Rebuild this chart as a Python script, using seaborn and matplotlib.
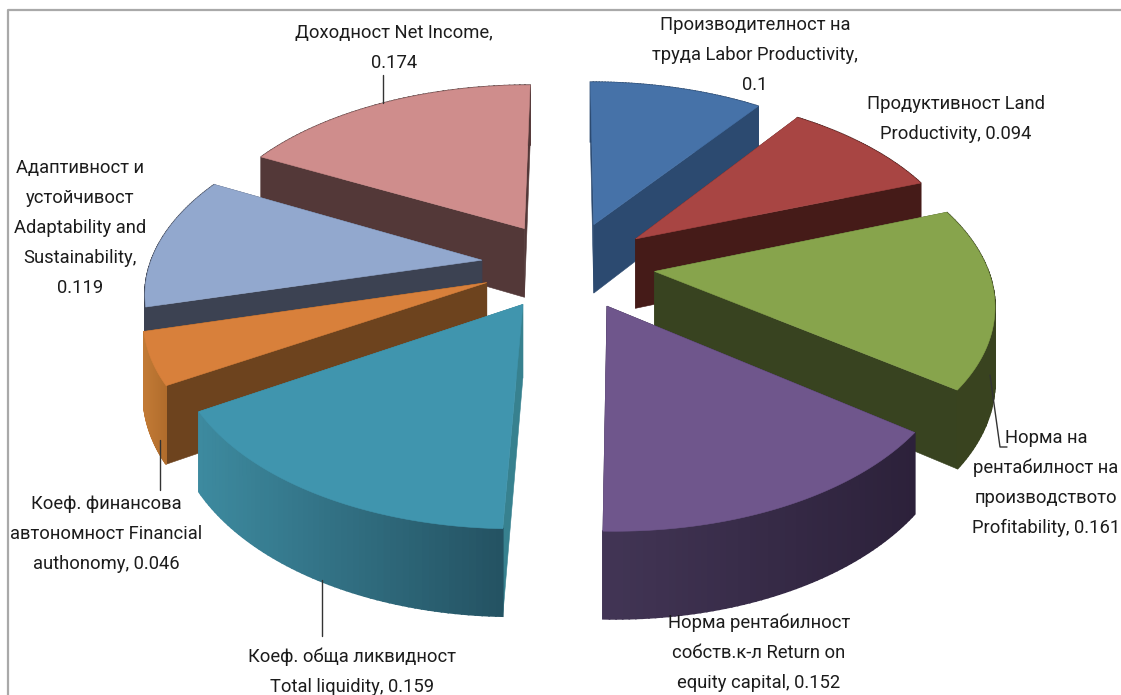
import numpy as np
import matplotlib
matplotlib.use("Agg")
import matplotlib.pyplot as plt
from matplotlib.colors import to_rgb
import seaborn as sns

# ---- data ----
categories = ["Производителност на\nтруда Labor Productivity,",
              "Продуктивност Land\nProductivity,",
              "Норма на\nрентабилност на\nпроизводството\nProfitability,",
              "Норма рентабилност\nсобств.к-л Return on\nequity capital,",
              "Коеф. обща ликвидност\nTotal liquidity,",
              "Коеф. финансова\nавтономност Financial\nauthonomy,",
              "Адаптивност и\nустойчивост\nAdaptability and\nSustainability,",
              "Доходност Net Income,"]
values = [0.1, 0.094, 0.161, 0.152, 0.159, 0.046, 0.119, 0.174]
value_text = ["0.1", "0.094", "0.161", "0.152", "0.159", "0.046", "0.119", "0.174"]
value_on_new_line = [True, False, False, False, False, False, True, True]

# ---- style ----
top_colors = ["#4672a8", "#a84543", "#87a44c", "#6f568c", "#4095ae", "#d8803b", "#92a8ce", "#cf8d8c"]
cut_colors = ["#2c4a70", "#451b18", "#384320", "#2e2340", "#37818f", "#6d431e", "#3c4252", "#533838"]
rim_left = ["#2c4a70", "#451b18", "#39431f", "#423555", "#3d8a9f", "#c27a35", "#3c4252", "#533838"]
rim_right = ["#2c4a70", "#451b18", "#39431f", "#2c213a", "#245262", "#b06c2c", "#3c4252", "#533838"]
label_pos = [(755, 55), (956, 119), (1046, 483), (759, 653), (352, 672), (106, 534), (80, 228), (394, 48)]
sns.set_theme(style="white")
plt.rcParams["font.family"] = ["Roboto", "DejaVu Sans"]

# ---- projection (pie plane -> picture) ----
CX, CY, RX, RY, PERSP, EXPLODE_U, EXPLODE_V, DEPTH = 568, 265, 332, 176, 0.155, 0.262, 0.25, 71


def project(u, v, down=0.0):
    w = 1 + PERSP * v
    return CX + RX * u / w, CY - RY * v / w + DEPTH * down / w


fig = plt.figure(figsize=(11.21, 6.95), dpi=100)
ax = fig.add_axes([0, 0, 1, 1])
ax.set_xlim(0, 1121)
ax.set_ylim(695, 0)
ax.axis("off")

fractions = np.array(values) / np.sum(values)
edges = np.concatenate([[0], np.cumsum(fractions)]) * 2 * np.pi
mids = (edges[:-1] + edges[1:]) / 2
order = np.argsort(-np.cos(mids))  # back to front


def quad(ua, va, ub, vb, color, lw=0.4):
    xs, ys = [], []
    for u, v, d in [(ua, va, 0), (ub, vb, 0), (ub, vb, 1), (ua, va, 1)]:
        x, y = project(u, v, d)
        xs.append(x)
        ys.append(y)
    ax.fill(xs, ys, color=color, lw=lw, ec=color)


for i in order:
    ou, ov = EXPLODE_U * np.sin(mids[i]), EXPLODE_V * np.cos(mids[i])
    th = np.linspace(edges[i], edges[i + 1], 60)
    ru, rv = ou + np.sin(th), ov + np.cos(th)
    # cut faces
    quad(ou, ov, ru[0], rv[0], cut_colors[i])
    quad(ou, ov, ru[-1], rv[-1], cut_colors[i])
    # rim with a left-to-right gradient
    px = project(ru, rv)[0]
    t = (px - px.min()) / max(px.max() - px.min(), 1)
    cl, cr = np.array(to_rgb(rim_left[i])), np.array(to_rgb(rim_right[i]))
    for k in range(len(th) - 1):
        tk = (t[k] + t[k + 1]) / 2
        quad(ru[k], rv[k], ru[k + 1], rv[k + 1], tuple(cl + (cr - cl) * tk), lw=1.2)
    # top face
    x, y = project(np.r_[ou, ru], np.r_[ov, rv])
    ax.fill(x, y, color=top_colors[i], lw=0.4, ec=top_colors[i])

# chart frame
ax.plot([8, 8, 1121], [695, 10, 10], color="#a9a9a9", lw=1.6, clip_on=True)

# leader lines
leaders = [([990, 1000, 1007], [375, 447, 447]), ([383, 383], [75, 103]),
           ([160, 160], [440, 490]), ([322, 322], [580, 636])]
for lx, ly in leaders:
    ax.plot(lx, ly, color="#333333", lw=1.0)

for name, val, nl, (tx, ty) in zip(categories, value_text, value_on_new_line, label_pos):
    s = name + ("\n" if nl else " ") + val
    ax.text(tx, ty, s, ha="center", va="center", fontsize=13.2, color="#1c1c1c",
            linespacing=1.84, clip_on=True)

fig.savefig("out.png", dpi=100)
